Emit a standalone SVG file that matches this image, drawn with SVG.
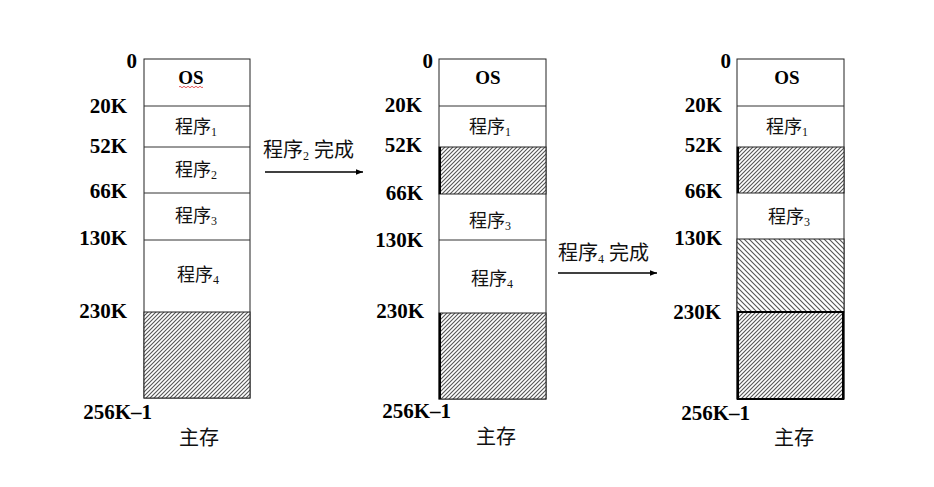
<svg xmlns="http://www.w3.org/2000/svg" width="934" height="487" viewBox="0 0 934 487">
<style>
.lbl{font-family:"Liberation Serif","Times New Roman",serif;font-weight:bold;font-size:21px;fill:#000;text-anchor:end}
.os{font-family:"Liberation Serif","Times New Roman",serif;font-weight:bold;font-size:19px;fill:#000;text-anchor:middle}
.cn{font-family:"Liberation Serif","Noto Sans CJK SC",serif;font-size:18px;fill:#111;text-anchor:middle}
.ar{font-family:"Liberation Serif","Noto Sans CJK SC",serif;font-size:20px;fill:#111}
.mm{font-family:"Liberation Serif","Noto Sans CJK SC",serif;font-size:20px;fill:#111;text-anchor:middle}
.sub{font-size:12px}
.box{fill:#fff;stroke:#222;stroke-width:1}
.div{stroke:#333;stroke-width:1}
.h1{fill:url(#hatchA);stroke:#222;stroke-width:1}
.h2{fill:url(#hatchB);stroke:#222;stroke-width:1}
.edge{stroke:#000;stroke-width:2}
.conn{stroke:#000;stroke-width:1.5;fill:none;marker-end:url(#arr)}
</style>
<defs>
<pattern id="hatchA" patternUnits="userSpaceOnUse" width="4" height="4">
<rect width="4" height="4" fill="#fff"/>
<path d="M-1,1 l2,-2 M0,4 l4,-4 M3,5 l2,-2" stroke="#555" stroke-width="1.1"/>
</pattern>
<pattern id="hatchB" patternUnits="userSpaceOnUse" width="5" height="5">
<rect width="5" height="5" fill="#fff"/>
<path d="M-1,4 l2,2 M0,0 l5,5 M4,-1 l2,2" stroke="#555" stroke-width="1.1"/>
</pattern>
<marker id="arr" viewBox="0 0 10 10" refX="10" refY="5" markerWidth="5" markerHeight="5" orient="auto" markerUnits="strokeWidth">
<path d="M0,1 L10,5 L0,9 z" fill="#000"/>
</marker>
</defs>

<g id="memory1">
<rect class="box" x="144" y="59" width="106" height="339"/>
<line class="div" x1="144" y1="106" x2="250" y2="106"/>
<line class="div" x1="144" y1="147" x2="250" y2="147"/>
<line class="div" x1="144" y1="193" x2="250" y2="193"/>
<line class="div" x1="144" y1="240" x2="250" y2="240"/>
<rect class="h1" x="144" y="312" width="106" height="86"/>
<text class="os" x="191" y="84">OS</text>
<path d="M179,87 q1,-1.5 2,0 t2,0 t2,0 t2,0 t2,0 t2,0 t2,0 t2,0 t2,0 t2,0 t2,0 t2,0" fill="none" stroke="#e03030" stroke-width="0.8"/>
<text class="cn" x="196" y="133">程序<tspan class="sub" dy="3">1</tspan></text>
<text class="cn" x="196" y="176">程序<tspan class="sub" dy="3">2</tspan></text>
<text class="cn" x="196" y="222">程序<tspan class="sub" dy="3">3</tspan></text>
<text class="cn" x="198" y="281">程序<tspan class="sub" dy="3">4</tspan></text>
<text class="lbl" x="137" y="68">0</text>
<text class="lbl" x="127" y="113">20K</text>
<text class="lbl" x="127" y="153">52K</text>
<text class="lbl" x="127" y="198">66K</text>
<text class="lbl" x="127" y="245">130K</text>
<text class="lbl" x="127" y="318">230K</text>
<text class="lbl" x="152" y="419">256K–1</text>
<text class="mm" x="199" y="445">主存</text>
</g>

<g id="memory2">
<rect class="box" x="439" y="59" width="107" height="340"/>
<line class="div" x1="439" y1="106" x2="546" y2="106"/>
<line class="div" x1="439" y1="240" x2="546" y2="240"/>
<rect class="h1" x="439" y="147" width="107" height="47"/>
<rect class="h1" x="439" y="313" width="107" height="86"/>
<line class="edge" x1="440" y1="147" x2="440" y2="194"/>
<line class="edge" x1="440" y1="313" x2="440" y2="399"/>
<text class="os" x="488" y="84">OS</text>
<text class="cn" x="490" y="133">程序<tspan class="sub" dy="3">1</tspan></text>
<text class="cn" x="490" y="227">程序<tspan class="sub" dy="3">3</tspan></text>
<text class="cn" x="492" y="285">程序<tspan class="sub" dy="3">4</tspan></text>
<text class="lbl" x="433" y="68">0</text>
<text class="lbl" x="422" y="112">20K</text>
<text class="lbl" x="422" y="152">52K</text>
<text class="lbl" x="423" y="200">66K</text>
<text class="lbl" x="423" y="247">130K</text>
<text class="lbl" x="424" y="318">230K</text>
<text class="lbl" x="451" y="418">256K–1</text>
<text class="mm" x="496" y="444">主存</text>
</g>

<g id="memory3">
<rect class="box" x="737" y="59" width="107" height="340"/>
<line class="div" x1="737" y1="106" x2="844" y2="106"/>
<rect class="h1" x="737" y="147" width="107" height="46"/>
<rect class="h2" x="737" y="239" width="107" height="73"/>
<rect class="h1" x="737" y="312" width="107" height="87"/>
<line class="edge" x1="738" y1="147" x2="738" y2="193"/>
<rect x="738" y="312" width="105" height="87" fill="none" stroke="#000" stroke-width="2"/>
<text class="os" x="787" y="84">OS</text>
<text class="cn" x="787" y="133">程序<tspan class="sub" dy="3">1</tspan></text>
<text class="cn" x="789" y="223">程序<tspan class="sub" dy="3">3</tspan></text>
<text class="lbl" x="731" y="68">0</text>
<text class="lbl" x="722" y="112">20K</text>
<text class="lbl" x="722" y="152">52K</text>
<text class="lbl" x="722" y="198">66K</text>
<text class="lbl" x="722" y="245">130K</text>
<text class="lbl" x="721" y="319">230K</text>
<text class="lbl" x="750" y="420">256K–1</text>
<text class="mm" x="794" y="445">主存</text>
</g>

<g id="connectors">
<line class="conn" x1="265" y1="172" x2="363" y2="172"/>
<text class="ar" x="263" y="157">程序<tspan class="sub" dy="3">2</tspan><tspan dy="-3"> 完成</tspan></text>
<line class="conn" x1="558" y1="273" x2="657" y2="273"/>
<text class="ar" x="558" y="260">程序<tspan class="sub" dy="3">4</tspan><tspan dy="-3"> 完成</tspan></text>
</g>
</svg>
